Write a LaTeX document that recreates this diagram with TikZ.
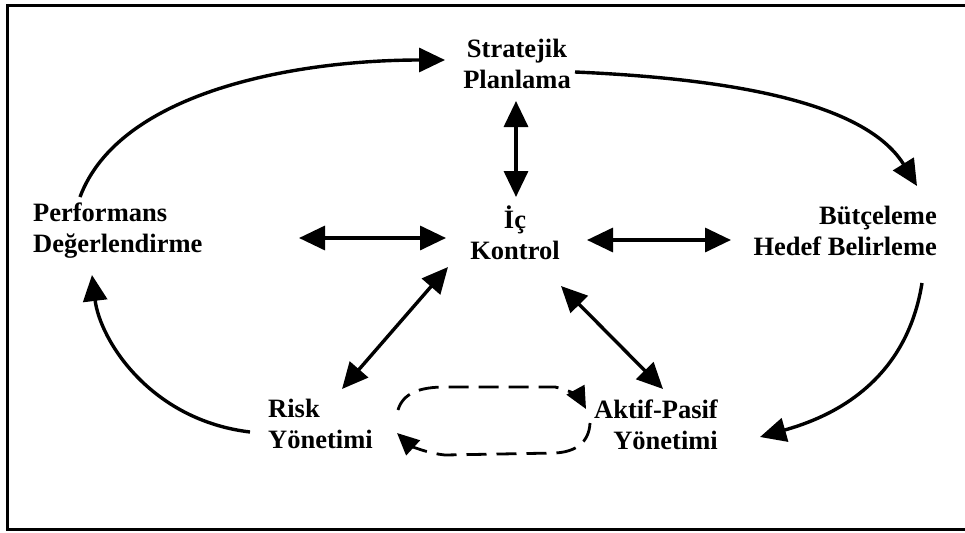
\documentclass[tikz,border=0pt]{standalone}
\usepackage{fontspec}
\setmainfont{Liberation Serif}
\usetikzlibrary{arrows.meta}
\begin{document}
\begin{tikzpicture}[x=1pt,y=-1pt,
  lbl/.style={font=\fontsize{26.5}{31}\selectfont\bfseries, inner sep=0pt},
  tipbig/.tip={Triangle[length=26pt,width=24pt]},
  conn/.style={line width=3.4pt, -tipbig},
  dconn/.style={line width=3.4pt, tipbig-tipbig},
  dashconn/.style={line width=2.8pt, dash pattern=on 20pt off 10pt, -{Triangle[length=22pt,width=20pt]}},
  frame/.style={line width=3pt}
]
\useasboundingbox (0,0) rectangle (965,532);
\draw[frame] (965,6) -- (7,6) -- (7,529) -- (965,529);

\node[lbl, align=center] (sp) at (517,64) {Stratejik\\Planlama};
\node[lbl, align=center] (ik) at (515,233) {İç\\Kontrol};
\node[lbl, align=left, anchor=west] (pd) at (33,231) {Performans\\Değerlendirme};
\node[lbl, align=right, anchor=east] (bh) at (937,231) {Bütçeleme\\Hedef Belirleme};
\node[lbl, align=left, anchor=west] (ry) at (268,424) {Risk\\Yönetimi};
\node[lbl, align=right, anchor=east] (ap) at (718,425) {Aktif-Pasif\\Yönetimi};

% outer cycle
\coordinate (pdtop) at (80,197);
\coordinate (spleft) at (445,60);
\coordinate (spright) at (575,72);
\coordinate (bhtop) at (917,186);
\coordinate (bhbot) at (922,283);
\coordinate (apright) at (760,437);
\coordinate (ryleft) at (250,432);
\coordinate (pdbot) at (92,275);
\draw[conn] (pdtop) .. controls (120,90) and (300,60) .. (spleft);
\draw[conn] (spright) .. controls (760,80) and (870,110) .. (bhtop);
\draw[conn] (bhbot) .. controls (905,390) and (820,420) .. (apright);
\draw[conn] (ryleft) .. controls (150,420) and (100,340) .. (pdbot);

% inner connections
\coordinate (spbot) at (516,101);
\coordinate (iktop) at (516,197);
\coordinate (pdright) at (299,238);
\coordinate (ikleft) at (446,238);
\coordinate (ikright) at (587,240);
\coordinate (bhleft) at (731,240);
\coordinate (ikbl) at (448,267);
\coordinate (rytop) at (342,389);
\coordinate (ikbr) at (561,286);
\coordinate (aptop) at (663,389);
\draw[dconn] (spbot) -- (iktop);
\draw[dconn] (pdright) -- (ikleft);
\draw[dconn] (ikright) -- (bhleft);
\draw[dconn] (ikbl) -- (rytop);
\draw[dconn] (ikbr) -- (aptop);

% dashed loop
\coordinate (d1s) at (398,410);
\coordinate (d1e) at (586,409);
\coordinate (d2s) at (590,423);
\coordinate (d2e) at (397,433);
\draw[dashconn] (d1s) .. controls (403,393) and (420,387) .. (445,387) -- (555,387) .. controls (570,390) and (580,398) .. (d1e);
\draw[dashconn] (d2s) .. controls (589,443) and (575,452) .. (555,453) -- (445,455) .. controls (425,453) and (410,445) .. (d2e);
\end{tikzpicture}
\end{document}
